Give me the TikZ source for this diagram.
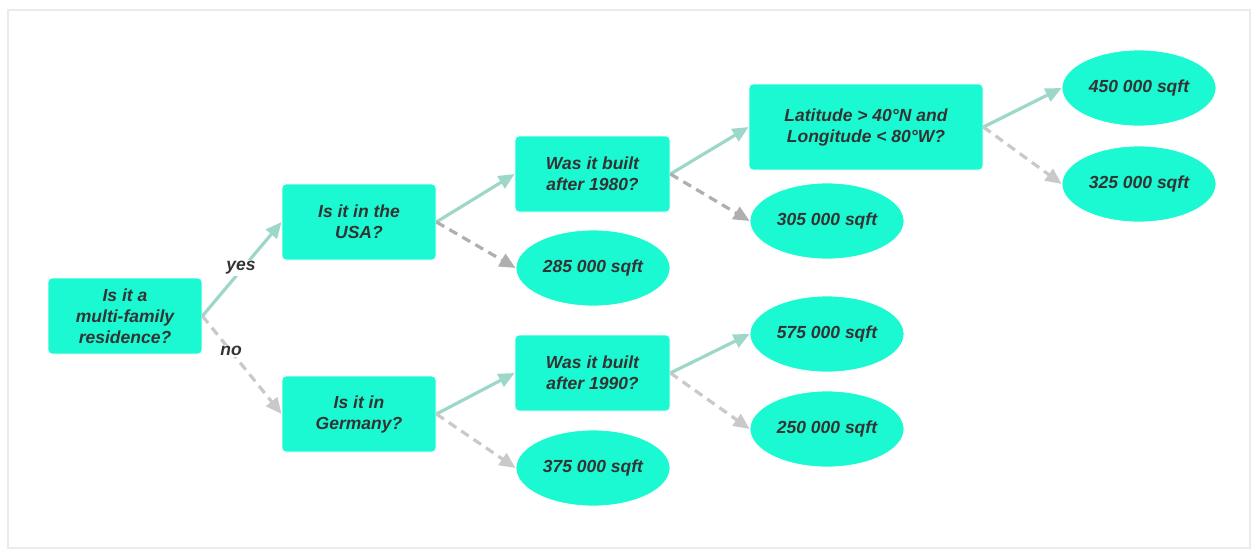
\documentclass[tikz,border=0pt]{standalone}
\usepackage{fontspec}
\setmainfont{Liberation Sans}
\usetikzlibrary{arrows.meta,shapes.geometric}
\definecolor{leaf}{HTML}{1AF9D1}
\definecolor{ink}{HTML}{333333}
\definecolor{yesline}{HTML}{9DD7CA}
\definecolor{noline}{HTML}{C9C9C9}
\definecolor{nodark}{HTML}{AFAFAF}
\definecolor{frame}{HTML}{EBEBEB}
\tikzset{
  question/.style={rectangle, rounded corners=4pt, fill=leaf, draw=white, line width=0.8pt,
    text=ink, align=center, font=\fontsize{17.5}{21}\selectfont\bfseries\itshape,
    minimum width=154pt, minimum height=76pt, inner sep=0pt},
  answer/.style={ellipse, fill=leaf, draw=white, line width=0.8pt, text=ink,
    font=\fontsize{17.5}{21}\selectfont\bfseries\itshape,
    minimum width=154pt, minimum height=76pt, inner sep=0pt},
  yesarrow/.style={draw=yesline, line width=3.2pt, -{Triangle[length=16pt,width=14pt]}},
  noarrow/.style={draw=noline, line width=3.2pt, dash pattern=on 9pt off 6pt,
    -{Triangle[length=16pt,width=14pt]}},
  branch/.style={text=ink, font=\fontsize{17.5}{21}\selectfont\bfseries\itshape}
}

\begin{document}
\begin{tikzpicture}[x=1pt,y=-1pt]
	%%%%% frame %%%%%
	\useasboundingbox (0,0) rectangle (1259,550);
	\draw[frame, line width=2.5pt] (8,10) rectangle (1250,548);
	
	%%%%% questions %%%%%
	\node[question] (family) at (125,316) {Is it a\\multi-family\\residence?};
	\node[question] (usa) at (359,222) {Is it in the\\USA?};
	\node[question] (germany) at (359,414) {Is it in\\Germany?};
	\node[question, minimum width=155pt] (built80) at (592.5,174) {Was it built\\after 1980?};
	\node[question, minimum width=155pt] (built90) at (592.5,373) {Was it built\\after 1990?};
	\node[question, minimum width=234pt, minimum height=86pt] (latlon) at (866,127)
		{Latitude > 40°N and\\Longitude < 80°W?};
	
	%%%%% answers %%%%%
	\node[answer] (a285) at (593,268) {285 000 sqft};
	\node[answer] (a375) at (593,468) {375 000 sqft};
	\node[answer] (a305) at (827,221) {305 000 sqft};
	\node[answer] (a575) at (827,334) {575 000 sqft};
	\node[answer] (a250) at (827,429) {250 000 sqft};
	\node[answer] (a450) at (1139,88) {450 000 sqft};
	\node[answer] (a325) at (1139,184) {325 000 sqft};
	
	%%%%% branches %%%%%
	\draw[yesarrow] (family.east) -- (usa.west);
	\draw[noarrow] (family.east) -- (germany.west);
	\node[branch, fill=white, inner sep=1pt] (yes) at (241,268) {yes};
	\node[branch, fill=white, inner sep=1pt] (no) at (231,351) {no};
	
	\draw[yesarrow] (usa.east) -- (built80.west);
	\draw[noarrow, draw=nodark] (usa.east) -- (a285.west);
	\draw[yesarrow] (germany.east) -- (built90.west);
	\draw[noarrow] (germany.east) -- (a375.west);
	
	\draw[yesarrow] (built80.east) -- (latlon.west);
	\draw[noarrow, draw=nodark] (built80.east) -- (a305.west);
	\draw[yesarrow] (built90.east) -- (a575.west);
	\draw[noarrow] (built90.east) -- (a250.west);
	
	\draw[yesarrow] (latlon.east) -- (a450.west);
	\draw[noarrow] (latlon.east) -- (a325.west);
\end{tikzpicture}
\end{document}
